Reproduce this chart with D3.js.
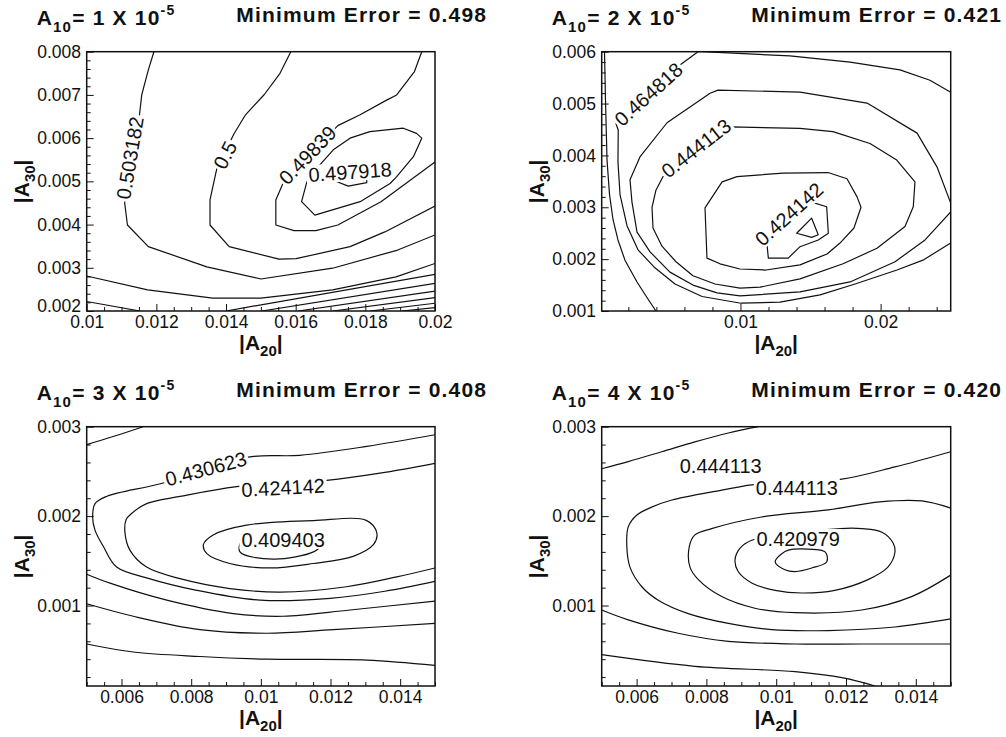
<!DOCTYPE html>
<html>
<head>
<meta charset="utf-8">
<title>Minimum error contours</title>
<script src="https://cdn.jsdelivr.net/npm/d3@7/dist/d3.min.js"></script>
<style>
  html, body { margin: 0; padding: 0; background: #fff; }
  svg { display: block; font-family: "Liberation Sans", Arial, Helvetica, sans-serif; }
</style>
</head>
<body>
<svg id="chart" width="1006" height="737"></svg>
<script>
// ---------- data ----------
const a10Values = [1, 2, 3, 4];
const minimumErrors = ["0.498", "0.421", "0.408", "0.420"];

const xDomains = [[0.01, 0.02], [0.0001, 0.025], [0.005, 0.015], [0.005, 0.015]];
const yDomains = [[0.002, 0.008], [0.001, 0.006], [0.0001, 0.003], [0.0001, 0.003]];

const xTickValues = [
  [0.01, 0.012, 0.014, 0.016, 0.018, 0.02],
  [0.01, 0.02],
  [0.006, 0.008, 0.01, 0.012, 0.014],
  [0.006, 0.008, 0.01, 0.012, 0.014]
];
const xTickLabels = [
  ["0.01", "0.012", "0.014", "0.016", "0.018", "0.02"],
  ["0.01", "0.02"],
  ["0.006", "0.008", "0.01", "0.012", "0.014"],
  ["0.006", "0.008", "0.01", "0.012", "0.014"]
];
const yTickValues = [
  [0.002, 0.003, 0.004, 0.005, 0.006, 0.007, 0.008],
  [0.001, 0.002, 0.003, 0.004, 0.005, 0.006],
  [0.001, 0.002, 0.003],
  [0.001, 0.002, 0.003]
];
const yTickLabels = [
  ["0.002", "0.003", "0.004", "0.005", "0.006", "0.007", "0.008"],
  ["0.001", "0.002", "0.003", "0.004", "0.005", "0.006"],
  ["0.001", "0.002", "0.003"],
  ["0.001", "0.002", "0.003"]
];
const xMinorSteps = [0.0005, 0.002, 0.0005, 0.0005];
const yMinorSteps = [0.0002, 0.0002, 0.0002, 0.0002];

// Contour lines as [|A20|, |A30|] points; a line whose last point repeats the first is a closed loop.
const panel1Contours = [
  [[0.01193,0.008],[0.01177,0.00758],[0.01158,0.0070],[0.01151,0.0065],[0.01109,0.0045],[0.01117,0.00399],[0.01177,0.00349],[0.01345,0.00302],[0.0150,0.00274],[0.01706,0.00299],[0.01893,0.00341],[0.02,0.00376]],
  [[0.01586,0.008],[0.01555,0.0075],[0.0151,0.00701],[0.01456,0.00654],[0.01423,0.0061],[0.01374,0.00531],[0.01354,0.00457],[0.01354,0.00399],[0.01409,0.00349],[0.01552,0.0032],[0.01601,0.00321],[0.01756,0.00349],[0.01856,0.00383],[0.02,0.00443]],
  [[0.01962,0.008],[0.01941,0.00754],[0.0189,0.007],[0.01861,0.00688],[0.01785,0.00654],[0.01721,0.00629],[0.01564,0.00496],[0.01543,0.00457],[0.01543,0.00399],[0.01595,0.00386],[0.01658,0.00386],[0.01721,0.00399],[0.01845,0.00453],[0.02,0.00545]],
  [[0.01617,0.00453],[0.01632,0.00499],[0.01665,0.00534],[0.01708,0.00573],[0.01756,0.006],[0.01813,0.00615],[0.01909,0.00623],[0.01947,0.00611],[0.01962,0.006],[0.01938,0.00557],[0.0189,0.00511],[0.01871,0.00495],[0.01785,0.00453],[0.01655,0.00422],[0.01617,0.00453]],
  [[0.01706,0.00503],[0.01751,0.00489],[0.01804,0.00497],[0.01804,0.0051],[0.01756,0.00515],[0.01706,0.00503]],
  [[0.01,0.00281],[0.01175,0.00249],[0.01362,0.0023],[0.0150,0.0023],[0.01706,0.00249],[0.01888,0.00279],[0.02,0.0031]],
  [[0.01,0.00222],[0.01153,0.002]],
  [[0.0140,0.002],[0.02,0.00285]],
  [[0.01503,0.002],[0.02,0.00264]],
  [[0.01607,0.002],[0.02,0.00246]],
  [[0.01707,0.002],[0.02,0.00231]],
  [[0.01813,0.002],[0.02,0.00218]],
  [[0.01905,0.002],[0.02,0.00208]]
];
const panel1Labels = [
  { text: "0.503182", x: 0.01124, y: 0.00554 },
  { text: "0.5", x: 0.01397, y: 0.00561 },
  { text: "0.49839", x: 0.01634, y: 0.00561 },
  { text: "0.497918", x: 0.01756, y: 0.00522 }
];
const panel1LabelAngles = [-80.5, -63, -46, -4];

const panel2Contours = [
  [[0.0003,0.006],[0.00037,0.00507],[0.00048,0.00391],[0.00066,0.00324],[0.00091,0.00276],[0.00126,0.00237],[0.00176,0.00198],[0.00262,0.00156],[0.00326,0.00129],[0.00397,0.001]],
  [[0.025,0.00522],[0.02352,0.00545],[0.02138,0.00565],[0.01782,0.0058],[0.01353,0.00592],[0.00726,0.006],[0.00697,0.006],[0.00576,0.00576],[0.00112,0.00461],[0.00128,0.00449],[0.00126,0.00387],[0.00141,0.00324],[0.00191,0.00264],[0.00269,0.00218],[0.00383,0.00185],[0.00533,0.00152],[0.00726,0.00128],[0.01004,0.00115],[0.01282,0.00117],[0.01568,0.00131],[0.01818,0.00152],[0.02117,0.00179],[0.02302,0.00198],[0.025,0.00231]],
  [[0.025,0.00308],[0.02402,0.00378],[0.0226,0.00443],[0.01903,0.00501],[0.01425,0.00522],[0.0084,0.00526],[0.00783,0.0052],[0.00476,0.00463],[0.00283,0.00397],[0.00212,0.00353],[0.00226,0.0031],[0.00262,0.00252],[0.00355,0.00214],[0.00497,0.00175],[0.00661,0.0015],[0.00833,0.00135],[0.00997,0.00129],[0.01425,0.00137],[0.01782,0.00156],[0.02103,0.00195],[0.02317,0.00237],[0.025,0.00291]],
  [[0.00933,0.00455],[0.01425,0.00452],[0.0166,0.00446],[0.01924,0.00423],[0.02115,0.00391],[0.02245,0.00349],[0.02233,0.00301],[0.02174,0.00263],[0.01974,0.00221],[0.01732,0.00191],[0.01425,0.00162],[0.0114,0.00146],[0.00997,0.00144],[0.00819,0.00152],[0.00661,0.00168],[0.0054,0.00195],[0.0044,0.00225],[0.00376,0.0026],[0.00369,0.003],[0.00397,0.00333],[0.00447,0.00359],[0.00933,0.00455]],
  [[0.00747,0.00299],[0.00869,0.00349],[0.00975,0.00359],[0.01304,0.00366],[0.01625,0.00367],[0.0176,0.00355],[0.01832,0.0032],[0.0186,0.003],[0.0181,0.0026],[0.0171,0.00231],[0.01618,0.0021],[0.01425,0.00189],[0.01182,0.00179],[0.00997,0.00181],[0.00854,0.00191],[0.00761,0.00202],[0.00747,0.00299]],
  [[0.01187,0.00234],[0.01496,0.00311],[0.01615,0.00301],[0.01627,0.0025],[0.01555,0.00237],[0.01425,0.00224],[0.01341,0.00202],[0.01199,0.00202],[0.01187,0.00234]],
  [[0.01508,0.00279],[0.01555,0.00247],[0.01508,0.00242],[0.01401,0.0025],[0.01508,0.00279]]
];
const panel2Labels = [
  { text: "0.464818", x: 0.00343, y: 0.00518 },
  { text: "0.444113", x: 0.00683, y: 0.00414 },
  { text: "0.424142", x: 0.01346, y: 0.00287 }
];
const panel2LabelAngles = [-42, -38, -42];

const panel3Contours = [
  [[0.005,0.0028],[0.00576,0.00289],[0.00662,0.003]],
  [[0.015,0.00291],[0.01304,0.00278],[0.01112,0.00268],[0.00964,0.00266],[0.0072,0.00237],[0.00557,0.00222],[0.00524,0.00214],[0.00517,0.00199],[0.00524,0.00184],[0.00548,0.00166],[0.00586,0.00143],[0.00672,0.00131],[0.00816,0.00117],[0.00998,0.00106],[0.01199,0.00108],[0.01356,0.00116],[0.015,0.00127]],
  [[0.015,0.00259],[0.01342,0.00248],[0.01189,0.0024],[0.00931,0.00233],[0.00768,0.00222],[0.00672,0.00214],[0.00629,0.00203],[0.00613,0.00196],[0.0061,0.00181],[0.00624,0.00162],[0.00672,0.00143],[0.00768,0.0013],[0.00911,0.00119],[0.01055,0.00115],[0.01246,0.00121],[0.0139,0.00132],[0.015,0.00142]],
  [[0.00835,0.00168],[0.00863,0.00179],[0.00959,0.0019],[0.01151,0.00195],[0.01304,0.00195],[0.01333,0.00181],[0.01323,0.00168],[0.01265,0.00155],[0.01151,0.00147],[0.01026,0.00142],[0.00911,0.00147],[0.00845,0.00158],[0.00835,0.00168]],
  [[0.00945,0.00172],[0.0094,0.0016],[0.01036,0.00152],[0.01151,0.0016],[0.01168,0.00166],[0.01112,0.00176],[0.00998,0.00177],[0.00945,0.00172]],
  [[0.005,0.00135],[0.00567,0.00125],[0.0073,0.00106],[0.00921,0.00091],[0.01064,0.00088],[0.01256,0.00095],[0.015,0.00105]],
  [[0.005,0.00102],[0.00634,0.00088],[0.00825,0.00073],[0.01017,0.00069],[0.01208,0.00073],[0.015,0.0008]],
  [[0.005,0.00057],[0.00634,0.00048],[0.00825,0.00043],[0.01017,0.0004],[0.01304,0.00039],[0.015,0.00033]]
];
const panel3Labels = [
  { text: "0.430623", x: 0.00842, y: 0.00253 },
  { text: "0.424142", x: 0.01064, y: 0.00232 },
  { text: "0.409403", x: 0.01064, y: 0.00174 }
];
const panel3LabelAngles = [-15, -3, 0];

const panel4Contours = [
  [[0.005,0.00253],[0.00576,0.00261],[0.00672,0.00272],[0.00767,0.00283],[0.00863,0.00293],[0.00949,0.003]],
  [[0.015,0.00272],[0.0134,0.00255],[0.01183,0.00241],[0.0093,0.00235],[0.00844,0.00229],[0.00701,0.00218],[0.00643,0.0021],[0.006,0.00201],[0.00576,0.00188],[0.00572,0.00166],[0.00581,0.00143],[0.00615,0.00121],[0.00662,0.00106],[0.00748,0.00091],[0.00863,0.0008],[0.00987,0.00073],[0.01149,0.00072],[0.0134,0.00076],[0.015,0.00085]],
  [[0.015,0.00209],[0.01417,0.00217],[0.01297,0.00216],[0.01149,0.00207],[0.00958,0.00199],[0.00815,0.00186],[0.00767,0.00179],[0.00751,0.00166],[0.00753,0.00143],[0.00777,0.00129],[0.00844,0.0011],[0.00939,0.00097],[0.01054,0.00092],[0.01245,0.00095],[0.01388,0.0011],[0.015,0.00134]],
  [[0.0093,0.00173],[0.00896,0.00164],[0.00882,0.00151],[0.00891,0.00138],[0.00931,0.00125],[0.00997,0.00117],[0.01073,0.00114],[0.01168,0.00117],[0.01263,0.00129],[0.0132,0.00143],[0.0134,0.00159],[0.01335,0.0017],[0.01303,0.00182],[0.01246,0.00186],[0.01183,0.00186],[0.0093,0.00173]],
  [[0.00997,0.00149],[0.01016,0.00158],[0.01035,0.00162],[0.01092,0.00163],[0.0114,0.0016],[0.01145,0.00149],[0.01102,0.00142],[0.01054,0.00138],[0.01025,0.0014],[0.00997,0.00149]],
  [[0.005,0.00095],[0.00576,0.00084],[0.00719,0.00069],[0.00863,0.0006],[0.01054,0.00057],[0.01245,0.00057],[0.015,0.00057]],
  [[0.005,0.00045],[0.00767,0.00032],[0.01054,0.00026],[0.01192,0.00019],[0.01283,0.0001]]
];
const panel4Labels = [
  { text: "0.444113", x: 0.00841, y: 0.00256 },
  { text: "0.444113", x: 0.01059, y: 0.00232 },
  { text: "0.420979", x: 0.01063, y: 0.00175 }
];
const panel4LabelAngles = [0, 0, 0];

// ---------- layout ----------
const frames = [
  { left: 86.7,  top: 51.7,  width: 348.3, height: 259.3 },
  { left: 601.7, top: 51.7,  width: 349,   height: 259.3 },
  { left: 86.7,  top: 426.7, width: 348.3, height: 259.3 },
  { left: 601.7, top: 426.7, width: 349,   height: 259.3 }
];
const smoothCurves = [false, false, true, true];
const cornerLabelLift = [5, 0, 0, 0];
const ink = "#111";

const panels = [
  { contours: panel1Contours, labels: panel1Labels, angles: panel1LabelAngles },
  { contours: panel2Contours, labels: panel2Labels, angles: panel2LabelAngles },
  { contours: panel3Contours, labels: panel3Labels, angles: panel3LabelAngles },
  { contours: panel4Contours, labels: panel4Labels, angles: panel4LabelAngles }
];

function minorValues(domain, step, majors) {
  const k0 = Math.ceil(domain[0] / step - 1e-6);
  const k1 = Math.floor(domain[1] / step + 1e-6);
  return d3.range(k0, k1 + 1).map(k => +(k * step).toFixed(6))
    .filter(v => !majors.some(m => Math.abs(m - v) < step * 0.01));
}

const svg = d3.select("#chart");
const defs = svg.append("defs");

panels.forEach((p, i) => {
  const f = frames[i];
  const x = d3.scaleLinear().domain(xDomains[i]).range([f.left, f.left + f.width]);
  const y = d3.scaleLinear().domain(yDomains[i]).range([f.top + f.height, f.top]);
  const g = svg.append("g").attr("class", "panel");

  defs.append("clipPath").attr("id", "clip" + i).append("rect")
    .attr("x", f.left).attr("y", f.top).attr("width", f.width).attr("height", f.height);

  const openCurve = smoothCurves[i] ? d3.curveCatmullRom.alpha(0.5) : d3.curveLinear;
  const closedCurve = smoothCurves[i] ? d3.curveCatmullRomClosed.alpha(0.5) : d3.curveLinearClosed;
  const lineOpen = d3.line().x(d => x(d[0])).y(d => y(d[1])).curve(openCurve);
  const lineClosed = d3.line().x(d => x(d[0])).y(d => y(d[1])).curve(closedCurve);

  // contour lines
  const cg = g.append("g").attr("clip-path", `url(#clip${i})`);
  p.contours.forEach(c => {
    const a = c[0], b = c[c.length - 1];
    const closed = c.length > 2 && a[0] === b[0] && a[1] === b[1];
    cg.append("path")
      .attr("d", closed ? lineClosed(c.slice(0, -1)) : lineOpen(c))
      .attr("fill", "none")
      .attr("stroke", ink)
      .attr("stroke-width", 1.2)
      .attr("stroke-linejoin", "round");
  });

  // contour value labels, each on a white box that breaks its line
  p.labels.forEach((lb, k) => {
    const lg = cg.append("g")
      .attr("transform", `translate(${x(lb.x)},${y(lb.y)}) rotate(${p.angles[k]})`);
    const box = lg.append("rect").attr("fill", "#fff");
    const t = lg.append("text")
      .attr("text-anchor", "middle")
      .attr("dy", "0.36em")
      .attr("font-size", 20)
      .attr("fill", ink)
      .text(lb.text);
    const w = t.node().getComputedTextLength();
    box.attr("x", -w / 2 - 2).attr("y", -9.5).attr("width", w + 4).attr("height", 19);
  });

  // axes with inward ticks
  const bottom = f.top + f.height;
  const styleAxis = sel => sel
    .attr("font-family", null)
    .attr("font-size", 17.5)
    .attr("color", ink)
    .call(s => s.select(".domain").remove());

  g.append("g").attr("transform", `translate(0,${bottom})`)
    .call(d3.axisBottom(x).tickValues(minorValues(xDomains[i], xMinorSteps[i], xTickValues[i]))
      .tickSize(-4).tickFormat(""))
    .call(styleAxis);
  g.append("g").attr("transform", `translate(0,${bottom})`)
    .call(d3.axisBottom(x).tickValues(xTickValues[i]).tickSize(-7).tickPadding(5)
      .tickFormat((d, k) => xTickLabels[i][k]))
    .call(styleAxis);

  g.append("g").attr("transform", `translate(${f.left},0)`)
    .call(d3.axisLeft(y).tickValues(minorValues(yDomains[i], yMinorSteps[i], yTickValues[i]))
      .tickSize(-4).tickFormat(""))
    .call(styleAxis);
  const gy = g.append("g").attr("transform", `translate(${f.left},0)`)
    .call(d3.axisLeft(y).tickValues(yTickValues[i]).tickSize(-7).tickPadding(5.7)
      .tickFormat((d, k) => yTickLabels[i][k]))
    .call(styleAxis);
  if (cornerLabelLift[i]) {
    gy.selectAll(".tick").filter(d => Math.abs(d - yDomains[i][0]) < 1e-9)
      .select("text").attr("y", -cornerLabelLift[i]);
  }

  g.selectAll(".tick line").attr("stroke-width", 1);

  // frame
  g.append("rect")
    .attr("x", f.left).attr("y", f.top).attr("width", f.width).attr("height", f.height)
    .attr("fill", "none").attr("stroke", ink).attr("stroke-width", 1.5);

  // axis titles
  const xt = g.append("text")
    .attr("x", f.left + f.width / 2).attr("y", bottom + 39)
    .attr("text-anchor", "middle").attr("font-weight", "bold").attr("font-size", 21).attr("fill", ink);
  xt.append("tspan").text("|A");
  xt.append("tspan").attr("font-size", 15).attr("dy", 6).text("20");
  xt.append("tspan").attr("dy", -6).text("|");

  const yt = g.append("text")
    .attr("transform", `translate(${f.left - 58},${f.top + f.height / 2}) rotate(-90)`)
    .attr("text-anchor", "middle").attr("font-weight", "bold").attr("font-size", 21).attr("fill", ink);
  yt.append("tspan").text("|A");
  yt.append("tspan").attr("font-size", 15).attr("dy", 6).text("30");
  yt.append("tspan").attr("dy", -6).text("|");

  // panel titles
  const ta = g.append("text")
    .attr("x", f.left - 50).attr("y", f.top - 26.7)
    .attr("font-weight", "bold").attr("font-size", 21).attr("letter-spacing", 1.2).attr("fill", ink);
  ta.append("tspan").text("A");
  ta.append("tspan").attr("font-size", 15).attr("dy", 7).text("10");
  ta.append("tspan").attr("dy", -7).text(`= ${a10Values[i]} X 10`);
  ta.append("tspan").attr("font-size", 14).attr("dy", -10).text("-5");

  g.append("text")
    .attr("x", f.left + 149.5).attr("y", f.top - 30)
    .attr("font-weight", "bold").attr("font-size", 21).attr("letter-spacing", 1.2).attr("fill", ink)
    .text(`Minimum Error = ${minimumErrors[i]}`);
});
</script>
</body>
</html>
